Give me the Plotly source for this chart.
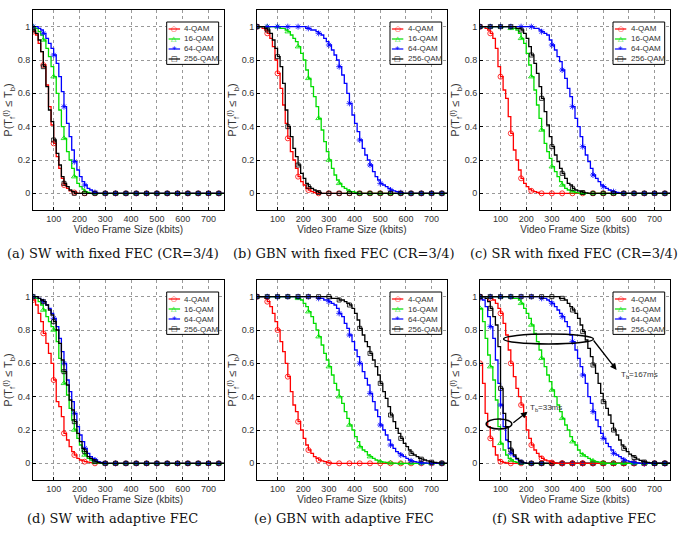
import plotly.graph_objects as go

# x grid (kbits), one reading every 10 kbits; each curve is listed until it reaches 0
FRAME_KBITS = list(range(20, 761, 10))
QAM_LABELS = ['4-QAM', '16-QAM', '64-QAM', '256-QAM']
CAPTIONS = ['(a) SW with fixed FEC (CR=3/4)', '(b) GBN with fixed FEC (CR=3/4)',
            '(c) SR with fixed FEC (CR=3/4)', '(d) SW with adaptive FEC',
            '(e) GBN with adaptive FEC', '(f) SR with adaptive FEC']

# (a) SW, fixed FEC
sw_fixed_4 = [0.97, 0.95, 0.9, 0.85, 0.77, 0.65, 0.52, 0.41, 0.3, 0.22, 0.15, 0.09, 0.05, 0.03, 0.015, 0.01, 0.005]
sw_fixed_16 = [1.0, 0.99, 0.97, 0.95, 0.92, 0.87, 0.82, 0.76, 0.7, 0.6, 0.5, 0.4, 0.33, 0.25, 0.2, 0.15, 0.1, 0.06,
               0.04, 0.025, 0.01, 0.005]
sw_fixed_64 = [1, 1, 0.99, 0.98, 0.96, 0.93, 0.9, 0.87, 0.83, 0.78, 0.7, 0.61, 0.52, 0.42, 0.34, 0.26, 0.19, 0.14, 0.1,
               0.07, 0.05, 0.03, 0.02, 0.01, 0.005]
sw_fixed_256 = [0.98, 0.96, 0.92, 0.85, 0.76, 0.64, 0.5, 0.43, 0.32, 0.24, 0.17, 0.1, 0.06, 0.04, 0.02, 0.01]

# (b) GBN, fixed FEC
gbn_fixed_4 = [1, 1, 0.99, 0.98, 0.96, 0.93, 0.88, 0.8, 0.72, 0.63, 0.53, 0.42, 0.33, 0.25, 0.2, 0.15, 0.1, 0.07, 0.05,
               0.03, 0.02, 0.01, 0.005]
gbn_fixed_16 = [1] * 9 + [0.99, 0.99, 0.98, 0.97, 0.95, 0.93, 0.91, 0.88, 0.84, 0.8, 0.74, 0.69, 0.64, 0.58, 0.52,
                          0.45, 0.38, 0.31, 0.25, 0.2, 0.15, 0.11, 0.08, 0.06, 0.04, 0.03, 0.02, 0.01, 0.01, 0.005]
gbn_fixed_64 = [1] * 19 + [0.99, 0.99, 0.98, 0.98, 0.97, 0.96, 0.95, 0.93, 0.91, 0.89, 0.86, 0.83, 0.8, 0.76, 0.71,
                           0.66, 0.6, 0.54, 0.47, 0.42, 0.37, 0.32, 0.27, 0.23, 0.2, 0.17, 0.13, 0.1, 0.08, 0.06,
                           0.05, 0.04, 0.03, 0.02, 0.015, 0.01, 0.005, 0.003]
gbn_fixed_256 = [1, 1, 1, 0.99, 0.98, 0.96, 0.92, 0.87, 0.82, 0.76, 0.66, 0.5, 0.4, 0.34, 0.27, 0.22, 0.17, 0.12,
                 0.09, 0.06, 0.04, 0.03, 0.02, 0.01, 0.005]

# (c) SR, fixed FEC
sr_fixed_4 = [1, 1, 0.99, 0.98, 0.96, 0.93, 0.87, 0.76, 0.7, 0.62, 0.57, 0.46, 0.36, 0.26, 0.2, 0.14, 0.09, 0.06,
              0.04, 0.025, 0.015, 0.01, 0.005]
sr_fixed_16 = [1] * 12 + [0.99, 0.99, 0.98, 0.96, 0.93, 0.9, 0.84, 0.77, 0.7, 0.62, 0.53, 0.45, 0.38, 0.3, 0.25,
                          0.21, 0.16, 0.13, 0.1, 0.07, 0.05, 0.03, 0.02, 0.015, 0.01, 0.005, 0.003]
sr_fixed_64 = [1] * 21 + [0.99, 0.99, 0.98, 0.97, 0.96, 0.95, 0.92, 0.89, 0.86, 0.82, 0.79, 0.74, 0.69, 0.63, 0.58,
                          0.52, 0.45, 0.4, 0.34, 0.28, 0.23, 0.19, 0.15, 0.11, 0.09, 0.07, 0.05, 0.04, 0.03, 0.02,
                          0.015, 0.01, 0.005, 0.003]
sr_fixed_256 = [1] * 14 + [0.99, 0.99, 0.98, 0.96, 0.93, 0.88, 0.83, 0.78, 0.72, 0.64, 0.57, 0.49, 0.41, 0.34, 0.28,
                           0.23, 0.19, 0.15, 0.12, 0.09, 0.06, 0.05, 0.03, 0.02, 0.015, 0.01, 0.005, 0.003]

# (d) SW, adaptive FEC
sw_adapt_4 = [0.98, 0.95, 0.9, 0.85, 0.78, 0.72, 0.66, 0.6, 0.5, 0.37, 0.34, 0.28, 0.18, 0.14, 0.1, 0.07, 0.05, 0.03,
              0.02, 0.015, 0.01, 0.007, 0.004, 0.002]
sw_adapt_16 = [1, 0.99, 0.97, 0.95, 0.92, 0.88, 0.85, 0.82, 0.8, 0.73, 0.63, 0.55, 0.48, 0.41, 0.33, 0.26, 0.2, 0.15,
               0.11, 0.07, 0.05, 0.03, 0.02, 0.01, 0.007, 0.003]
sw_adapt_64 = [1, 1, 0.99, 0.98, 0.97, 0.95, 0.93, 0.9, 0.87, 0.82, 0.75, 0.67, 0.6, 0.5, 0.43, 0.37, 0.3, 0.22, 0.17,
               0.13, 0.09, 0.06, 0.04, 0.03, 0.02, 0.01, 0.005, 0.002]
sw_adapt_256 = [1, 1, 0.99, 0.98, 0.97, 0.95, 0.92, 0.89, 0.85, 0.8, 0.72, 0.62, 0.55, 0.47, 0.38, 0.32, 0.25, 0.18,
                0.13, 0.09, 0.07, 0.04, 0.03, 0.02, 0.01, 0.005, 0.002]

# (e) GBN, adaptive FEC
gbn_adapt_4 = [1, 1, 1, 0.99, 0.97, 0.94, 0.9, 0.85, 0.8, 0.73, 0.67, 0.6, 0.52, 0.43, 0.35, 0.31, 0.25, 0.2, 0.15,
               0.11, 0.08, 0.06, 0.04, 0.03, 0.02, 0.015, 0.01, 0.005, 0.002]
gbn_adapt_16 = [1] * 15 + [0.99, 0.99, 0.98, 0.96, 0.94, 0.91, 0.88, 0.84, 0.8, 0.76, 0.71, 0.66, 0.62, 0.58, 0.53,
                           0.48, 0.44, 0.4, 0.36, 0.31, 0.27, 0.23, 0.2, 0.16, 0.13, 0.1, 0.08, 0.07, 0.05, 0.04,
                           0.03, 0.02, 0.015, 0.01, 0.007, 0.005, 0.003, 0.002, 0.001]
gbn_adapt_64 = [1] * 24 + [0.99, 0.99, 0.98, 0.98, 0.97, 0.96, 0.95, 0.93, 0.9, 0.88, 0.84, 0.81, 0.77, 0.73, 0.68,
                           0.64, 0.6, 0.55, 0.51, 0.47, 0.42, 0.37, 0.32, 0.28, 0.23, 0.2, 0.17, 0.14, 0.11, 0.09,
                           0.07, 0.06, 0.05, 0.04, 0.03, 0.02, 0.015, 0.01, 0.007, 0.005, 0.003, 0.002, 0.001]
gbn_adapt_256 = [1] * 29 + [0.99, 0.99, 0.99, 0.98, 0.98, 0.97, 0.96, 0.95, 0.93, 0.9, 0.86, 0.81, 0.77, 0.73, 0.7,
                            0.66, 0.62, 0.58, 0.53, 0.48, 0.43, 0.39, 0.34, 0.29, 0.25, 0.21, 0.18, 0.15, 0.12, 0.1,
                            0.08, 0.06, 0.05, 0.04, 0.03, 0.025, 0.02, 0.015, 0.01, 0.007, 0.005, 0.003, 0.002, 0.001]

# (f) SR, adaptive FEC, Tb = 33 ms
sr_33_4 = [0.6, 0.48, 0.3, 0.22, 0.15, 0.1, 0.05, 0.02, 0.01, 0.005, 0.002]
sr_33_16 = [0.93, 0.85, 0.75, 0.65, 0.58, 0.5, 0.38, 0.22, 0.12, 0.08, 0.05, 0.03, 0.02, 0.01, 0.006, 0.003, 0.001]
sr_33_64 = [0.99, 0.98, 0.94, 0.88, 0.82, 0.75, 0.62, 0.48, 0.35, 0.22, 0.14, 0.09, 0.06, 0.04, 0.025, 0.015, 0.007,
            0.003]
sr_33_256 = [1, 1, 0.99, 0.97, 0.93, 0.88, 0.83, 0.7, 0.45, 0.3, 0.22, 0.13, 0.08, 0.05, 0.03, 0.015, 0.007, 0.003]
# (f) SR, adaptive FEC, Tb = 167 ms
sr_167_4 = [1, 1, 1, 1, 0.99, 0.98, 0.96, 0.93, 0.9, 0.84, 0.77, 0.68, 0.6, 0.52, 0.45, 0.4, 0.35, 0.28, 0.2, 0.15,
            0.11, 0.08, 0.06, 0.04, 0.03, 0.02, 0.015, 0.01, 0.005, 0.002]
sr_167_16 = [1] * 13 + [0.99, 0.99, 0.98, 0.96, 0.93, 0.9, 0.87, 0.83, 0.78, 0.73, 0.68, 0.63, 0.58, 0.53, 0.49,
                        0.44, 0.4, 0.35, 0.31, 0.27, 0.23, 0.2, 0.16, 0.13, 0.11, 0.08, 0.06, 0.05, 0.04, 0.03, 0.02,
                        0.015, 0.01, 0.007, 0.004, 0.002]
sr_167_64 = [1] * 24 + [0.99, 0.99, 0.98, 0.97, 0.96, 0.94, 0.92, 0.9, 0.88, 0.85, 0.82, 0.77, 0.73, 0.68, 0.63, 0.58,
                        0.53, 0.48, 0.4, 0.36, 0.31, 0.26, 0.22, 0.18, 0.15, 0.12, 0.1, 0.08, 0.06, 0.05, 0.04, 0.03,
                        0.02, 0.015, 0.01, 0.007, 0.004, 0.002]
sr_167_256 = [1] * 31 + [0.99, 0.99, 0.98, 0.96, 0.94, 0.92, 0.9, 0.87, 0.83, 0.79, 0.74, 0.69, 0.64, 0.59, 0.54,
                         0.48, 0.42, 0.37, 0.33, 0.29, 0.24, 0.2, 0.17, 0.14, 0.11, 0.09, 0.07, 0.055, 0.045, 0.035,
                         0.025, 0.018, 0.012, 0.008, 0.005, 0.003, 0.001]

panels = [
    [sw_fixed_4, sw_fixed_16, sw_fixed_64, sw_fixed_256],
    [gbn_fixed_4, gbn_fixed_16, gbn_fixed_64, gbn_fixed_256],
    [sr_fixed_4, sr_fixed_16, sr_fixed_64, sr_fixed_256],
    [sw_adapt_4, sw_adapt_16, sw_adapt_64, sw_adapt_256],
    [gbn_adapt_4, gbn_adapt_16, gbn_adapt_64, gbn_adapt_256],
    [sr_33_4, sr_33_16, sr_33_64, sr_33_256, sr_167_4, sr_167_16, sr_167_64, sr_167_256],
]

colors = ['#ff0000', '#00dd00', '#0000ff', '#000000']
symbols = ['circle-open', 'triangle-up-open', 'asterisk-open', 'square-open']
msizes = [5, 5, 5, 4]
glyphs = ['○', '△', '*', '□']

# plot-area positions in pixels (685 x 538 page)
W, H = 685, 538
col_px = [(33, 224), (257, 447), (480, 670)]
row_px = [(10, 210), (280, 480)]
caption_x = [113, 344, 574]
caption_y = [253, 518]


def full(vals):
    n = len(FRAME_KBITS)
    return (list(vals) + [0] * n)[:n]


fig = go.Figure()
layout = dict(width=W, height=H, margin=dict(l=0, r=0, t=0, b=0),
              plot_bgcolor='white', paper_bgcolor='white', showlegend=False,
              font=dict(family='Liberation Sans', size=9, color='#333'))
shapes, annotations = [], []

for p, series in enumerate(panels):
    k = p + 1
    xa = 'x' if k == 1 else f'x{k}'
    ya = 'y' if k == 1 else f'y{k}'
    r, c = divmod(p, 3)
    x0, x1 = col_px[c]
    y0, y1 = row_px[r]

    for s, vals in enumerate(series):
        q = s % 4
        yv = full(vals)
        fig.add_trace(go.Scatter(x=FRAME_KBITS, y=yv, mode='lines', line_shape='hv',
                                 line=dict(color=colors[q], width=1.3), xaxis=xa, yaxis=ya))
        fig.add_trace(go.Scatter(x=FRAME_KBITS[::4], y=yv[::4], mode='markers', xaxis=xa, yaxis=ya,
                                 marker=dict(symbol=symbols[q], size=msizes[q], color=colors[q],
                                             line=dict(color=colors[q], width=0.8))))

    axkey = 'xaxis' if k == 1 else f'xaxis{k}'
    aykey = 'yaxis' if k == 1 else f'yaxis{k}'
    layout[axkey] = dict(domain=[x0 / W, x1 / W], anchor=ya, range=[20, 760],
                         tickvals=[100, 200, 300, 400, 500, 600, 700],
                         showline=True, mirror=True, linecolor='black', linewidth=1,
                         ticks='inside', ticklen=3, tickcolor='black', zeroline=False,
                         showgrid=True, gridcolor='#999', griddash='dot', gridwidth=0.7,
                         tickfont=dict(size=9),
                         title=dict(text='Video Frame Size (kbits)', font=dict(size=10), standoff=0))
    layout[aykey] = dict(domain=[1 - y1 / H, 1 - y0 / H], anchor=xa, range=[-0.1, 1.1],
                         tickvals=[0, 0.2, 0.4, 0.6, 0.8, 1],
                         ticktext=['0', '0.2', '0.4', '0.6', '0.8', '1'],
                         showline=True, mirror=True, linecolor='black', linewidth=1,
                         ticks='inside', ticklen=3, tickcolor='black', zeroline=False,
                         showgrid=True, gridcolor='#999', griddash='dot', gridwidth=0.7,
                         tickfont=dict(size=9),
                         title=dict(text='P(T<sub>f</sub><sup>(l)</sup> ≤ T<sub>b</sub>)',
                                    font=dict(size=11), standoff=2))

    # legend box drawn by hand so it stays as small as the original
    dx, dy = f'{xa} domain', f'{ya} domain'
    shapes.append(dict(type='rect', xref=dx, yref=dy, x0=0.70, x1=0.972, y0=0.728, y1=0.94,
                       fillcolor='white', line=dict(color='black', width=1), layer='above'))
    for q, lab in enumerate(QAM_LABELS):
        yy = 0.905 - 0.05 * q
        shapes.append(dict(type='line', xref=dx, yref=dy, x0=0.71, x1=0.77, y0=yy, y1=yy,
                           line=dict(color=colors[q], width=1.2), layer='above'))
        annotations.append(dict(xref=dx, yref=dy, x=0.74, y=yy, text=glyphs[q], showarrow=False,
                                font=dict(family='DejaVu Sans', size=7 if q != 2 else 9, color=colors[q]),
                                xanchor='center', yanchor='middle', yshift=-1 if q == 2 else 0,
                                borderpad=0))
        annotations.append(dict(xref=dx, yref=dy, x=0.787, y=yy, text=lab, showarrow=False,
                                font=dict(size=8, color='#333'), xanchor='left', yanchor='middle',
                                borderpad=0))

    annotations.append(dict(xref='paper', yref='paper', x=caption_x[c] / W, y=1 - caption_y[r] / H,
                            text=CAPTIONS[p], showarrow=False, xanchor='center', yanchor='middle',
                            font=dict(family='DejaVu Serif', size=13, color='#111')))

# Tb markers on panel (f)
shapes.append(dict(type='circle', xref='x6', yref='y6', x0=112, x1=462, y0=0.716, y1=0.776,
                   line=dict(color='black', width=1.5)))
shapes.append(dict(type='circle', xref='x6', yref='y6', x0=44, x1=144, y0=0.206, y1=0.266,
                   line=dict(color='black', width=1.5)))
annotations.append(dict(xref='x6', yref='y6', x=552, y=0.56, ax=458, ay=0.746, axref='x6', ayref='y6',
                        showarrow=True, arrowhead=2, arrowsize=1, arrowwidth=1.3, arrowcolor='black', text=''))
annotations.append(dict(xref='x6', yref='y6', x=205, y=0.31, ax=144, ay=0.236, axref='x6', ayref='y6',
                        showarrow=True, arrowhead=2, arrowsize=1, arrowwidth=1.3, arrowcolor='black', text=''))
annotations.append(dict(xref='x6', yref='y6', x=560, y=0.53, text='T<sub>b</sub>=167ms', showarrow=False,
                        xanchor='left', yanchor='middle', font=dict(size=8, color='#333')))
annotations.append(dict(xref='x6', yref='y6', x=208, y=0.33, text='T<sub>b</sub>=33ms', showarrow=False,
                        xanchor='left', yanchor='middle', font=dict(size=8, color='#333')))

layout['shapes'] = shapes
layout['annotations'] = annotations
fig.update_layout(**layout)
# drop the browser's default body margin so the page lines up with the 685x538 window
fig.write_html("out.html", config={'displayModeBar': False},
               post_script="document.body.style.margin='0px';")
